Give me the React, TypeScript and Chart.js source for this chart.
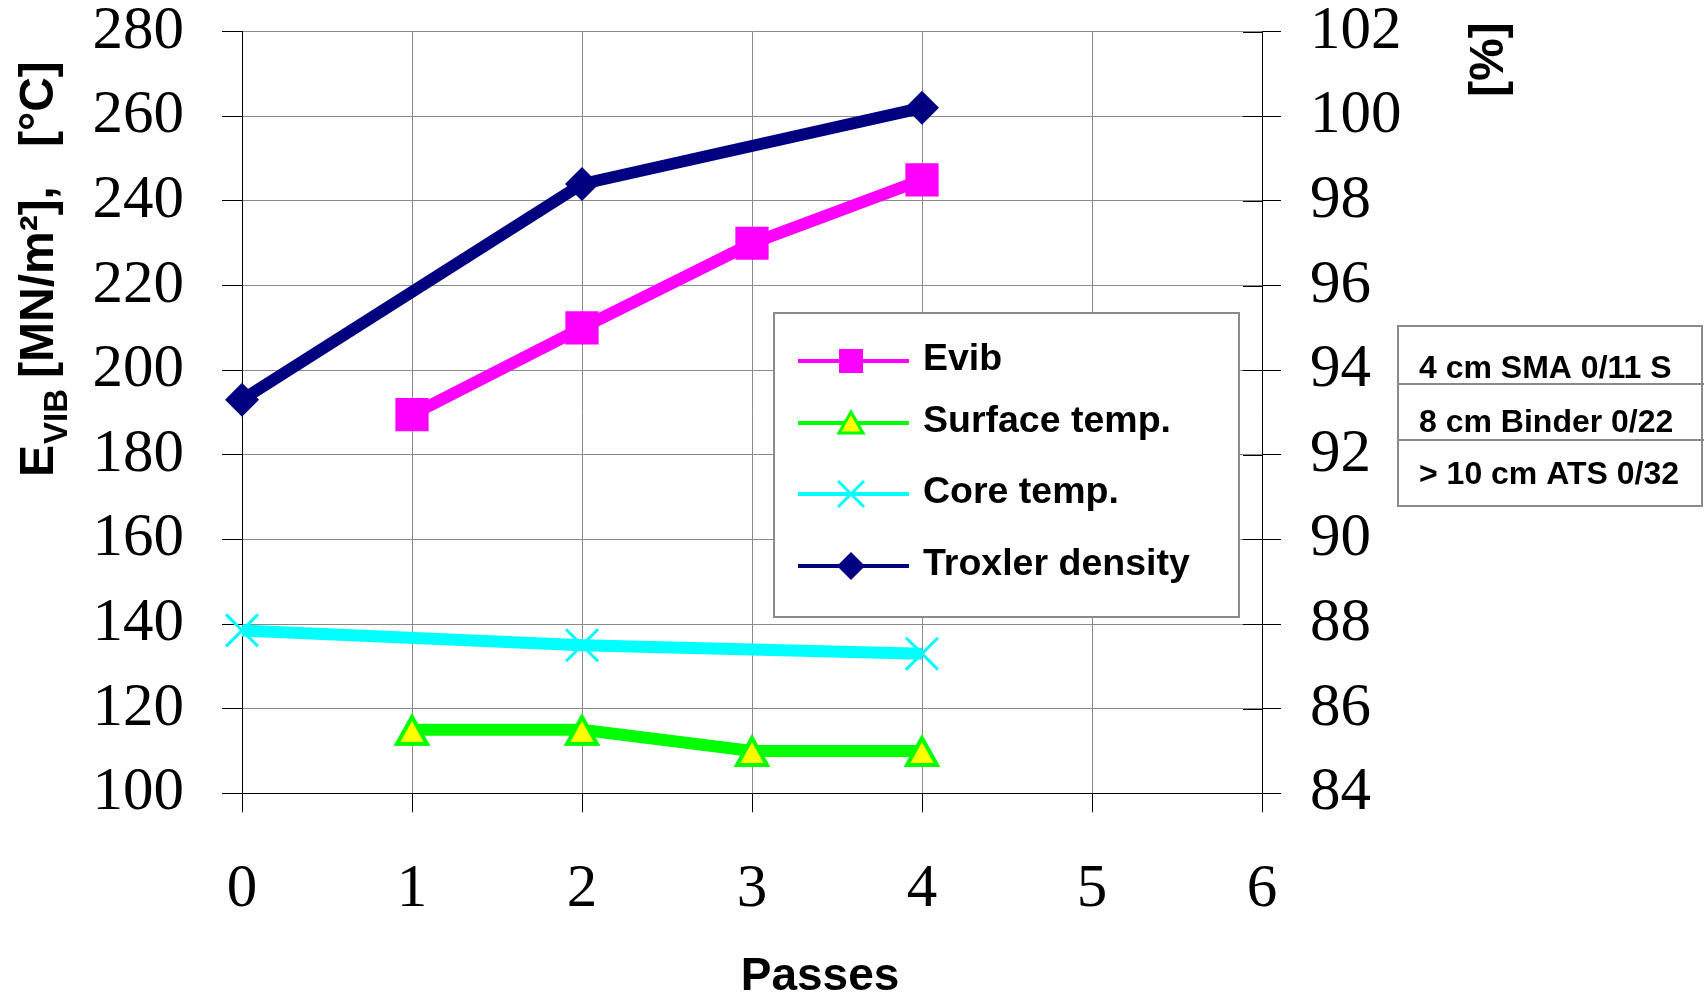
import React, { useEffect, useRef } from 'react';
import { Chart, registerables } from 'chart.js';

Chart.register(...registerables);

// ---------- data ----------
const passes = ['0', '1', '2', '3', '4', '5', '6'];
const evib = [null, 189.5, 210, 230, 245];
const surfaceTemp = [null, 115, 115, 110, 110];
const coreTemp = [138.5, null, 135, null, 133];
const troxlerDensity = [93.3, null, 98.4, null, 100.2];
const seriesNames = ['Evib', 'Surface temp.', 'Core temp.', 'Troxler density'];
const leftAxisRange = [100, 280, 20];
const rightAxisRange = [84, 102, 2];
const layerLabels = ['4 cm SMA 0/11 S', '8 cm Binder 0/22', '> 10 cm ATS 0/32'];
const xTitle = 'Passes';
const rightTitle = '[%]';

const SANS = '"Liberation Sans", Arial, Helvetica, sans-serif';
const SERIF = '"Liberation Serif", "Times New Roman", serif';

const MAGENTA = '#FF00FF';
const GREEN = '#00FF00';
const YELLOW = '#FFFF00';
const CYAN = '#00FFFF';
const NAVY = '#000080';
const GRID = '#8a8a8a';

function makeTriangle(): HTMLCanvasElement {
  const c = document.createElement('canvas');
  c.width = 42;
  c.height = 42;
  const g = c.getContext('2d')!;
  g.beginPath();
  g.moveTo(21, 8);
  g.lineTo(6, 35);
  g.lineTo(36, 35);
  g.closePath();
  g.fillStyle = YELLOW;
  g.fill();
  g.lineWidth = 4;
  g.strokeStyle = GREEN;
  g.lineJoin = 'miter';
  g.stroke();
  return c;
}

const decorPlugin = {
  id: 'decor',
  afterDraw(chart: any) {
    const ctx: CanvasRenderingContext2D = chart.ctx;
    const area = chart.chartArea;
    const y2 = chart.scales.y2;
    ctx.save();

    // inward tick marks on right axis
    ctx.strokeStyle = '#000';
    ctx.lineWidth = 1;
    y2.ticks.forEach((_t: any, i: number) => {
      const py = Math.round(y2.getPixelForTick(i)) + 0.5;
      ctx.beginPath();
      ctx.moveTo(area.right - 19, py);
      ctx.lineTo(area.right, py);
      ctx.stroke();
    });

    // left axis title (rotated)
    ctx.fillStyle = '#000';
    ctx.textBaseline = 'alphabetic';
    ctx.textAlign = 'left';
    ctx.save();
    ctx.translate(53, 477);
    ctx.rotate(-Math.PI / 2);
    ctx.font = `bold 48px ${SANS}`;
    ctx.fillText('E', 0, 0);
    ctx.font = `bold 33px ${SANS}`;
    ctx.fillText('VIB', 33, 14);
    ctx.font = `bold 48px ${SANS}`;
    ctx.fillText('[MN/m²],', 99, 0);
    ctx.fillText('[°C]', 330, 0);
    ctx.restore();

    // right axis title
    ctx.save();
    ctx.translate(1503, 97);
    ctx.rotate(-Math.PI / 2);
    ctx.font = `bold 48px ${SANS}`;
    ctx.fillText(rightTitle, 0, 0);
    ctx.restore();

    // x axis title
    ctx.font = `bold 46px ${SANS}`;
    ctx.textAlign = 'center';
    ctx.fillText(xTitle, 820, 990);

    // legend box
    const lx = 774, ly = 313, lw = 465, lh = 304;
    ctx.fillStyle = '#fff';
    ctx.fillRect(lx, ly, lw, lh);
    ctx.strokeStyle = GRID;
    ctx.lineWidth = 2;
    ctx.strokeRect(lx, ly, lw, lh);

    const rows = [361, 423, 494, 566];
    const colors = [MAGENTA, GREEN, CYAN, NAVY];
    const mx = 851;
    rows.forEach((ry, i) => {
      ctx.strokeStyle = colors[i];
      ctx.lineWidth = 4;
      ctx.beginPath();
      ctx.moveTo(798, ry);
      ctx.lineTo(909, ry);
      ctx.stroke();
      if (i === 0) {
        ctx.fillStyle = MAGENTA;
        ctx.fillRect(mx - 12, ry - 12, 24, 24);
      } else if (i === 1) {
        ctx.beginPath();
        ctx.moveTo(mx, ry - 11);
        ctx.lineTo(mx - 12, ry + 10);
        ctx.lineTo(mx + 12, ry + 10);
        ctx.closePath();
        ctx.fillStyle = YELLOW;
        ctx.fill();
        ctx.strokeStyle = GREEN;
        ctx.lineWidth = 3;
        ctx.stroke();
      } else if (i === 2) {
        ctx.strokeStyle = CYAN;
        ctx.lineWidth = 3;
        ctx.beginPath();
        ctx.moveTo(mx - 13, ry - 13);
        ctx.lineTo(mx + 13, ry + 13);
        ctx.moveTo(mx + 13, ry - 13);
        ctx.lineTo(mx - 13, ry + 13);
        ctx.stroke();
      } else {
        ctx.fillStyle = NAVY;
        ctx.beginPath();
        ctx.moveTo(mx, ry - 14);
        ctx.lineTo(mx + 14, ry);
        ctx.lineTo(mx, ry + 14);
        ctx.lineTo(mx - 14, ry);
        ctx.closePath();
        ctx.fill();
      }
      ctx.fillStyle = '#000';
      ctx.font = `bold 37.5px ${SANS}`;
      ctx.textAlign = 'left';
      ctx.textBaseline = 'middle';
      ctx.fillText(seriesNames[i], 923, ry - 1.5);
    });

    // layer box
    ctx.strokeStyle = GRID;
    ctx.lineWidth = 2;
    ctx.strokeRect(1398, 326, 304, 180);
    ctx.beginPath();
    ctx.moveTo(1398, 384);
    ctx.lineTo(1704, 384);
    ctx.moveTo(1398, 440);
    ctx.lineTo(1704, 440);
    ctx.stroke();
    ctx.fillStyle = '#000';
    ctx.font = `bold 32px ${SANS}`;
    ctx.textAlign = 'left';
    ctx.textBaseline = 'alphabetic';
    const baselines = [378, 432, 484];
    layerLabels.forEach((t, i) => ctx.fillText(t, 1419, baselines[i]));

    ctx.restore();
  },
};

export default function App() {
  const ref = useRef<HTMLCanvasElement>(null);

  useEffect(() => {
    if (!ref.current) return;
    const tri = makeTriangle();
    const chart = new Chart(ref.current, {
      type: 'line',
      data: {
        labels: passes,
        datasets: [
          {
            label: seriesNames[0],
            data: evib,
            yAxisID: 'y',
            borderColor: MAGENTA,
            backgroundColor: MAGENTA,
            borderWidth: 12,
            pointStyle: 'rect',
            pointRadius: 23.5,
            pointBackgroundColor: MAGENTA,
            pointBorderWidth: 0,
            spanGaps: true,
          },
          {
            label: seriesNames[1],
            data: surfaceTemp,
            yAxisID: 'y',
            borderColor: GREEN,
            backgroundColor: YELLOW,
            borderWidth: 12,
            pointStyle: tri,
            pointRadius: 18,
            spanGaps: true,
          },
          {
            label: seriesNames[2],
            data: coreTemp,
            yAxisID: 'y',
            borderColor: CYAN,
            backgroundColor: CYAN,
            borderWidth: 12,
            pointStyle: 'crossRot',
            pointRadius: 22.6,
            pointBorderColor: CYAN,
            pointBorderWidth: 3,
            spanGaps: true,
          },
          {
            label: seriesNames[3],
            data: troxlerDensity,
            yAxisID: 'y2',
            borderColor: NAVY,
            backgroundColor: NAVY,
            borderWidth: 12,
            pointStyle: 'rectRot',
            pointRadius: 17,
            pointBackgroundColor: NAVY,
            pointBorderWidth: 0,
            spanGaps: true,
          },
        ],
      },
      options: {
        responsive: false,
        animation: false,
        events: [],
        devicePixelRatio: 1,
        layout: { padding: { top: 31.7, left: 0, right: 0, bottom: 0 } },
        plugins: { legend: { display: false }, title: { display: false }, tooltip: { enabled: false } },
        elements: { line: { tension: 0 } },
        scales: {
          x: {
            type: 'category',
            offset: false,
            grid: { color: GRID, lineWidth: 1, tickColor: '#000', tickLength: 19, drawTicks: true },
            border: { color: '#000', width: 1 },
            ticks: {
              color: '#000',
              font: { family: SERIF, size: 61 },
              padding: 41,
              maxRotation: 0,
              autoSkip: false,
            },
            afterFit(s: any) {
              s.height = 993 - 793.3;
              s.paddingLeft = 0;
              s.paddingRight = 0;
            },
          },
          y: {
            position: 'left',
            min: leftAxisRange[0],
            max: leftAxisRange[1],
            grid: { color: GRID, lineWidth: 1, tickColor: '#000', tickLength: 20 },
            border: { color: '#000', width: 1 },
            ticks: {
              stepSize: leftAxisRange[2],
              color: '#000',
              font: { family: SERIF, size: 61 },
              padding: 38,
            },
            afterFit(s: any) {
              s.width = 242;
              s.paddingTop = 0;
              s.paddingBottom = 0;
            },
          },
          y2: {
            position: 'right',
            min: rightAxisRange[0],
            max: rightAxisRange[1],
            grid: { drawOnChartArea: false, tickColor: '#000', tickLength: 19 },
            border: { color: '#000', width: 1 },
            ticks: {
              stepSize: rightAxisRange[2],
              color: '#000',
              font: { family: SERIF, size: 61 },
              padding: 29,
            },
            afterFit(s: any) {
              s.width = 1704 - 1262;
              s.paddingTop = 0;
              s.paddingBottom = 0;
            },
          },
        },
      },
      plugins: [decorPlugin],
    } as any);
    return () => chart.destroy();
  }, []);

  return (
    <div style={{ position: 'fixed', left: 0, top: 0, width: 1704, height: 993, background: '#fff' }}>
      <canvas ref={ref} width={1704} height={993} style={{ width: 1704, height: 993, display: 'block' }} />
    </div>
  );
}
